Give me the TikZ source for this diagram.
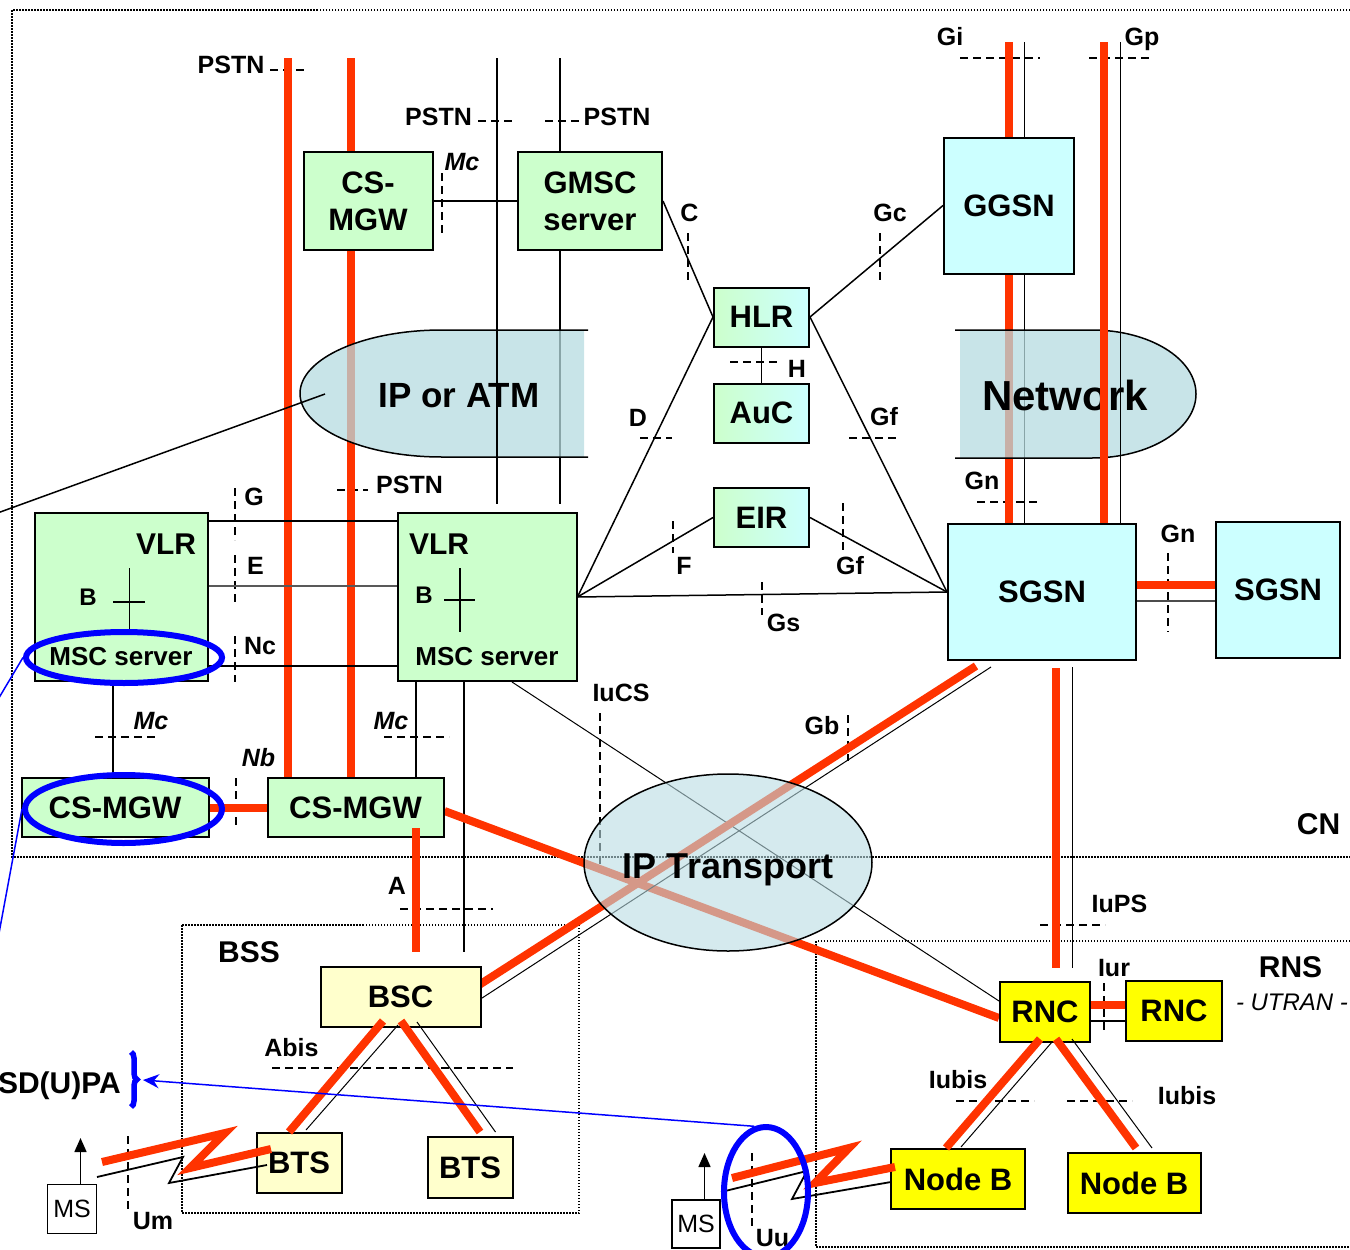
\documentclass[tikz,border=0pt]{standalone}
\usepackage{fontspec}
\setmainfont{Liberation Sans}
\usetikzlibrary{shapes.geometric,arrows.meta,decorations.pathreplacing}

\definecolor{nodegreen}{HTML}{CCFFCC}
\definecolor{nodecyan}{HTML}{CCFFFF}
\definecolor{nodeyellow}{HTML}{FFFF00}
\definecolor{paleyellow}{HTML}{FFFFCC}
\definecolor{bearer}{HTML}{FF3300}
\definecolor{cloudfill}{RGB}{182,219,224}
\definecolor{cloudfillB}{RGB}{185,220,227}

\pgfdeclarelayer{bg}
\pgfsetlayers{bg,main}

\tikzset{
  nodebox/.style={draw=black, line width=2pt, inner sep=0pt, align=center,
    font=\bfseries\fontsize{31}{37}\selectfont},
  gbox/.style={nodebox, fill=nodegreen},
  cbox/.style={nodebox, fill=nodecyan},
  ybox/.style={nodebox, fill=nodeyellow},
  pybox/.style={nodebox, fill=paleyellow},
  dbbox/.style={nodebox, left color=nodegreen, right color=nodecyan},
  msbox/.style={draw=black, line width=1.5pt, inner sep=0pt, fill=white,
    font=\fontsize{25}{30}\selectfont},
  lbl/.style={inner sep=0pt, font=\bfseries\fontsize{25}{30}\selectfont,
    text height=18pt, text depth=0pt},
  ilbl/.style={lbl, font=\bfseries\itshape\fontsize{25}{30}\selectfont},
  biglbl/.style={inner sep=0pt, font=\bfseries\fontsize{30}{36}\selectfont,
    text height=21.5pt, text depth=0pt},
  utr/.style={inner sep=0pt, font=\itshape\fontsize{24}{29}\selectfont,
    text height=17.2pt, text depth=0pt},
  vlrt/.style={inner sep=0pt, font=\bfseries\fontsize{30}{36}\selectfont,
    text height=21.5pt, text depth=0pt},
  bletter/.style={inner sep=0pt, font=\bfseries\fontsize{24}{29}\selectfont,
    text height=17.2pt, text depth=0pt},
  msct/.style={inner sep=0pt, font=\bfseries\fontsize{26}{31}\selectfont,
    text height=18.6pt, text depth=0pt},
  cloudtxt/.style={inner sep=0pt, text depth=0pt},
  rl/.style={draw=bearer, line width=8pt},
  tl/.style={draw=black, line width=1.5pt},
  pl/.style={draw=black, line width=1pt},
  iface/.style={draw=black, line width=1.5pt, dash pattern=on 8pt off 5pt},
  region/.style={draw=black, line width=1.5pt, dash pattern=on 1.5pt off 1.5pt},
  blueell/.style={ellipse, draw=blue, line width=6pt, inner sep=0pt},
  blueline/.style={draw=blue, line width=1.5pt},
}

\begin{document}
\begin{tikzpicture}[x=1pt,y=-1pt]
\useasboundingbox (0,0) rectangle (1350,1250);
\clip (0,0) rectangle (1350,1250);

% ---------- network elements ----------
\node[gbox, minimum width=129pt, minimum height=98pt] (mgwtop) at (368,201) {CS-\\MGW};
\node[gbox, minimum width=144pt, minimum height=98pt] (gmsc) at (590,201) {GMSC\\server};
\node[dbbox, minimum width=95pt, minimum height=59pt] (hlr) at (761.5,317) {HLR};
\node[dbbox, minimum width=95pt, minimum height=59pt] (auc) at (761.5,413) {AuC};
\node[dbbox, minimum width=95pt, minimum height=59pt] (eir) at (761.5,517.5) {EIR};
\node[cbox, minimum width=130pt, minimum height=136pt] (ggsn) at (1009,205.5) {GGSN};
\node[cbox, minimum width=188pt, minimum height=136pt] (sgsn) at (1042,592) {SGSN};
\node[cbox, minimum width=124pt, minimum height=136pt] (sgsnb) at (1278,590) {SGSN};
\node[gbox, minimum width=173pt, minimum height=168pt] (vlra) at (121.5,597) {};
\node[gbox, minimum width=179pt, minimum height=168pt] (vlrb) at (487,597) {};
\node[gbox, minimum width=187pt, minimum height=59pt] (mgwa) at (115,807.5) {CS-MGW};
\node[gbox, minimum width=176pt, minimum height=59pt] (mgwb) at (355.5,807.5) {CS-MGW};
\node[pybox, minimum width=160pt, minimum height=60pt] (bsc) at (400.5,997) {BSC};
\node[pybox, minimum width=85pt, minimum height=60pt] (btsa) at (299,1163) {BTS};
\node[pybox, minimum width=85pt, minimum height=61pt] (btsb) at (470,1167.5) {BTS};
\node[ybox, minimum width=90pt, minimum height=60pt] (rnca) at (1045,1012) {RNC};
\node[ybox, minimum width=96pt, minimum height=60pt] (rncb) at (1174,1011) {RNC};
\node[ybox, minimum width=134pt, minimum height=60pt] (nodeba) at (958,1179) {Node B};
\node[ybox, minimum width=133pt, minimum height=60pt] (nodebb) at (1134,1183) {Node B};
\node[msbox, minimum width=49pt, minimum height=49pt] (msa) at (72,1209) {MS};
\node[msbox, minimum width=48pt, minimum height=48pt] (msb) at (696,1224) {MS};

% contents of the two MSC server boxes
\node[vlrt] (vlraname) at (166,544) {VLR};
\node[bletter] (vlrab) at (88,597) {B};
\node[msct] (vlramsc) at (121,656) {MSC server};
\draw[tl] (129.5,568) -- (129.5,630);
\draw[tl] (113,602) -- (145,602);
\node[vlrt] (vlrbname) at (439,544) {VLR};
\node[bletter] (vlrbb) at (424,594.5) {B};
\node[msct] (vlrbmsc) at (487,656) {MSC server};
\draw[tl] (460,568) -- (460,632);
\draw[tl] (444,600) -- (475,600);

% free ends of trunks
\coordinate (topA) at (288,58);
\coordinate (topB) at (351,58);
\coordinate (topC) at (497,58);
\coordinate (topD) at (560,58);
\coordinate (giR) at (1009,42);
\coordinate (giK) at (1024,42);
\coordinate (gpR) at (1104,42);
\coordinate (gpK) at (1120,42);

\begin{pgfonlayer}{bg}
  % domain borders
  \draw[region] (1350,10) -- (12,10) -- (12,857) -- (1350,857);
  \draw[region] (182,925) rectangle (579,1213);
  \draw[region] (1350,941) -- (816,941) -- (816,1247) -- (1350,1247);

  % interface reference points
  \draw[iface] (270,70) -- (305,70);
  \draw[iface] (478,121) -- (513,121);
  \draw[iface] (545,121) -- (580,121);
  \draw[iface] (442,173) -- (442,237);
  \draw[iface] (688,233) -- (688,280);
  \draw[iface] (880,233) -- (880,280);
  \draw[iface] (960,58) -- (1040,58);
  \draw[iface] (1089,58) -- (1153,58);
  \draw[iface] (730,362) -- (779,362);
  \draw[iface] (640,438) -- (672,438);
  \draw[iface] (849,438) -- (897,438);
  \draw[iface] (977,502) -- (1041,502);
  \draw[iface] (235,488) -- (235,540);
  \draw[iface] (235,555) -- (235,602);
  \draw[iface] (235,636) -- (235,682);
  \draw[iface] (337,490) -- (368,490);
  \draw[iface] (673,521) -- (673,553);
  \draw[iface] (843,503) -- (843,550);
  \draw[iface] (762,582) -- (762,615);
  \draw[iface] (1168,553) -- (1168,632);
  \draw[iface] (95,737) -- (159,737);
  \draw[iface] (384,737) -- (449,737);
  \draw[iface] (236,778) -- (236,826);
  \draw[iface] (600,713) -- (600,872);
  \draw[iface] (848,715) -- (848,761);
  \draw[iface] (400,909) -- (493,909);
  \draw[iface] (272,1068) -- (513,1068);
  \draw[iface] (1040,925) -- (1105,925);
  \draw[iface] (1104,983) -- (1104,1031);
  \draw[iface] (956,1101) -- (1034,1101);
  \draw[iface] (1067,1101) -- (1132,1101);
  \draw[iface] (128,1136) -- (128,1211);
  \draw[iface] (752,1153) -- (752,1230);

  % circuit switched core
  \draw[tl] (mgwtop.east) -- (gmsc.west);
  \draw[rl] (topA) -- ([xshift=-67.5pt]mgwb.north);
  \draw[rl] (topB) -- ([xshift=-4.5pt]mgwb.north);
  \draw[tl] (topD) -- ([xshift=-30pt]gmsc.north);
  \draw[tl] ([xshift=-30pt]gmsc.south) -- ([xshift=73pt,yshift=8pt]vlrb.north);
  \draw[tl] (gmsc.east) -- (hlr.west);
  \draw[tl] (vlrb.east) -- (hlr.west);
  \draw[tl] (vlrb.east) -- (eir.west);
  \draw[tl] (vlrb.east) -- (sgsn.west);
  \draw[tl] (hlr.east) -- (sgsn.west);
  \draw[tl] (eir.east) -- (sgsn.west);
  \draw[tl] (ggsn.west) -- (hlr.east);
  \draw[tl] (hlr.south) -- (auc.north);
  \draw[tl] ([yshift=76pt]vlra.east) -- ([yshift=76pt]vlrb.west);
  \draw[tl, draw=black!65] ([yshift=11pt]vlra.east) -- ([yshift=11pt]vlrb.west);
  \draw[tl] ([yshift=-69pt]vlra.east) -- ([yshift=-69pt]vlrb.west);
  \draw[tl] ([xshift=-8.5pt]vlra.south) -- ([xshift=-2pt]mgwa.north);
  \draw[tl] ([xshift=-71pt]vlrb.south) -- ([xshift=60.5pt]mgwb.north);
  \draw[tl] ([xshift=-23pt]vlrb.south) -- ([xshift=63.5pt,yshift=14pt]bsc.north);
  \draw[rl] (mgwa.east) -- (mgwb.west);
  \draw[pl] ([xshift=25pt]vlrb.south) -- ([yshift=11pt]rnca.west);
  \draw[rl] ([yshift=-3.5pt]mgwb.east) -- ([yshift=-6pt]rnca.west);

  % packet switched core
  \draw[rl] ([xshift=-66pt,yshift=-5pt]sgsn.south) -- ([xshift=-2.5pt,yshift=12pt]bsc.east);
  \draw[pl] ([xshift=-51pt,yshift=-6pt]sgsn.south) -- ([xshift=-2.5pt,yshift=-3pt]bsc.east);
  \draw[rl] ([xshift=14pt,yshift=-7pt]sgsn.south) -- ([xshift=11pt,yshift=13pt]rnca.north);
  \draw[pl] ([xshift=30pt,yshift=-6pt]sgsn.south) -- ([xshift=27pt,yshift=13pt]rnca.north);
  \draw[rl] ([yshift=7pt]sgsn.east) -- ([yshift=5pt]sgsnb.west);
  \draw[tl, draw=black!70] ([yshift=-9pt]sgsn.east) -- ([yshift=-11pt]sgsnb.west);
  \draw[rl] ([yshift=7pt]rnca.east) -- ([yshift=6pt]rncb.west);
  \draw[tl] ([yshift=-9pt]rnca.east) -- ([yshift=-10pt]rncb.west);
  \draw[rl] (giR) -- ([xshift=-33pt]sgsn.north);
  \draw[pl] (giK) -- ([xshift=-18pt]sgsn.north);
\end{pgfonlayer}

% ---------- transport clouds ----------
\fill[cloudfill, fill opacity=0.75] (584,330) -- (442,330)
  arc[start angle=90, end angle=270, x radius=142pt, y radius=63.5pt] -- (584,457) -- cycle;
\draw[tl] (588,330) -- (442,330)
  arc[start angle=90, end angle=270, x radius=142pt, y radius=63.5pt] -- (588,457);
\node[cloudtxt, font=\bfseries\fontsize{35}{42}\selectfont, text height=25pt] (tipatm) at (459,394.5) {IP or ATM};

\fill[cloudfill, fill opacity=0.75] (960,330) -- (1092,330)
  arc[start angle=90, end angle=-90, x radius=104pt, y radius=64pt] -- (960,458) -- cycle;
\draw[tl] (955,330) -- (1092,330)
  arc[start angle=90, end angle=-90, x radius=104pt, y radius=64pt] -- (955,458);
\node[cloudtxt, font=\bfseries\fontsize{42}{50}\selectfont, text height=30pt] (tnet) at (1065,395) {Network};

\draw[tl, fill=cloudfillB, fill opacity=0.6] (728,862.5) ellipse[x radius=144pt, y radius=88.5pt];
\node[cloudtxt, font=\bfseries\fontsize{36}{43}\selectfont, text height=26pt] (tiptr) at (728,865) {IP Transport};

% lines running over the clouds
\coordinate (ipatmtip) at (325,394);
\coordinate (offC) at (-30,523);
\draw[tl] (ipatmtip) -- (offC);
\draw[tl] (topC) -- ([xshift=10pt,yshift=8pt]vlrb.north);
\draw[rl] (gpR) -- ([xshift=62pt]sgsn.north);
\draw[pl] (gpK) -- ([xshift=78pt]sgsn.north);

% access links touching the boxes
\draw[rl] ([xshift=60.5pt,yshift=10pt]mgwb.south) -- ([xshift=15.5pt,yshift=14pt]bsc.north);
\draw[rl] ([xshift=-17.5pt,yshift=7pt]bsc.south) -- ([xshift=-10pt]btsa.north);
\draw[pl] ([xshift=-2.5pt,yshift=3pt]bsc.south) -- ([xshift=7pt,yshift=2pt]btsa.north);
\draw[rl] ([xshift=0.5pt,yshift=7pt]bsc.south) -- ([xshift=10pt,yshift=4pt]btsb.north);
\draw[pl] ([xshift=16.5pt,yshift=6pt]bsc.south) -- ([xshift=25.5pt,yshift=4pt]btsb.north);
\draw[rl] ([xshift=-5pt,yshift=4pt]rnca.south) -- ([xshift=-12pt]nodeba.north);
\draw[pl] ([xshift=7pt,yshift=1pt]rnca.south) -- ([xshift=3pt,yshift=1pt]nodeba.north);
\draw[rl] ([xshift=11pt,yshift=4pt]rnca.south) -- ([xshift=2pt,yshift=4pt]nodebb.north);
\draw[pl] ([xshift=27pt,yshift=4pt]rnca.south) -- ([xshift=18pt,yshift=4pt]nodebb.north);

% ---------- interface and domain labels ----------
\node[lbl] (lpstna) at (231,64.5) {PSTN};
\node[lbl] (lpstnb) at (438.5,116.5) {PSTN};
\node[lbl] (lpstnc) at (617,116.5) {PSTN};
\node[ilbl] (lmca) at (462,161) {Mc};
\node[lbl] (lc) at (689.5,212.5) {C};
\node[lbl] (lgc) at (890,212.5) {Gc};
\node[lbl] (lgi) at (950,36.5) {Gi};
\node[lbl] (lgp) at (1142,36.5) {Gp};
\node[lbl] (lh) at (797,368.5) {H};
\node[lbl] (ld) at (638,417.5) {D};
\node[lbl] (lgfa) at (884,416.5) {Gf};
\node[lbl] (lgna) at (982,480.5) {Gn};
\node[lbl] (lg) at (254,496) {G};
\node[lbl] (le) at (255.5,565) {E};
\node[lbl] (lnc) at (260,645) {Nc};
\node[lbl] (lpstnd) at (409.5,484.5) {PSTN};
\node[lbl] (lf) at (684,565) {F};
\node[lbl] (lgfb) at (850,565) {Gf};
\node[lbl] (lgs) at (783.5,622) {Gs};
\node[lbl] (lgnb) at (1178,533) {Gn};
\node[ilbl] (lmcb) at (151,720.5) {Mc};
\node[ilbl] (lmcc) at (391,720.5) {Mc};
\node[ilbl] (lnb) at (258.5,757) {Nb};
\node[lbl] (liucs) at (621,692.5) {IuCS};
\node[lbl] (lgb) at (822,725) {Gb};
\node[lbl] (la) at (397,885) {A};
\node[lbl] (labis) at (291.5,1047.5) {Abis};
\node[lbl] (liups) at (1119.5,903) {IuPS};
\node[lbl] (liur) at (1114,967.5) {Iur};
\node[lbl] (liubisa) at (958,1079.5) {Iubis};
\node[lbl] (liubisb) at (1187,1095.5) {Iubis};
\node[lbl] (lum) at (153,1220) {Um};
\node[lbl] (luu) at (772.5,1237.5) {Uu};
\node[biglbl] (lcn) at (1318.5,823.5) {CN};
\node[biglbl] (lbss) at (249,951.5) {BSS};
\node[biglbl] (lrns) at (1290.5,967) {RNS};
\node[utr] (lutran) at (1292,1001.5) {- UTRAN -};

% ---------- radio links ----------
\coordinate (zra) at (102,1162);
\coordinate (zrb) at (225,1133);
\coordinate (zrc) at (190,1168);
\coordinate (zrd) at (271,1149);
\coordinate (zka) at (97,1177);
\coordinate (zkb) at (183,1157);
\coordinate (zkc) at (169,1183);
\coordinate (zkd) at (267,1165);
\draw[pl, line width=1.8pt] (zka) -- (zkb) -- (zkc) -- (zkd);
\draw[rl] (zra) -- (zrb) -- (zrc) -- (zrd);

\coordinate (yra) at (732,1178);
\coordinate (yrb) at (849,1148);
\coordinate (yrc) at (815,1183);
\coordinate (yrd) at (895,1167);
\coordinate (yka) at (721,1192);
\coordinate (ykb) at (807,1171);
\coordinate (ykc) at (792,1199);
\coordinate (ykd) at (891,1182);
\draw[pl, line width=1.8pt] (yka) -- (ykb) -- (ykc) -- (ykd);
\draw[rl] (yra) -- (yrb) -- (yrc) -- (yrd);

\coordinate (msatip) at (80.5,1138);
\coordinate (msbtip) at (704.5,1153);
\draw[tl, -{Triangle[length=14pt,width=12pt]}] ([xshift=8.5pt]msa.north) -- (msatip);
\draw[tl, -{Triangle[length=14pt,width=12pt]}] ([xshift=8.5pt]msb.north) -- (msbtip);

% ---------- highlights ----------
\node[blueell, minimum width=196pt, minimum height=51pt] (ellmsc) at (124,657.5) {};
\node[blueell, minimum width=197pt, minimum height=68pt] (ellmgw) at (123.5,809) {};
\node[blueell, minimum width=84pt, minimum height=130pt] (elluu) at (766,1192) {};
\coordinate (offA) at (-25,738);
\coordinate (offB) at (-20,1036);
\draw[blueline] (ellmsc.west) -- (offA);
\draw[blueline] (ellmgw.west) -- (offB);

\coordinate (braceTop) at (131,1052);
\coordinate (braceBot) at (131,1107);
\coordinate (bracetip) at (143,1080);
\draw[draw=blue, line width=5.5pt, decorate, decoration={brace, amplitude=6pt}] (braceTop) -- (braceBot);
\draw[blueline, -{Stealth[length=16pt,width=14pt]}] (elluu.100) -- (bracetip);
\node[biglbl, anchor=east] (lhsdpa) at (121,1083) {SD(U)PA};

\end{tikzpicture}
\end{document}
